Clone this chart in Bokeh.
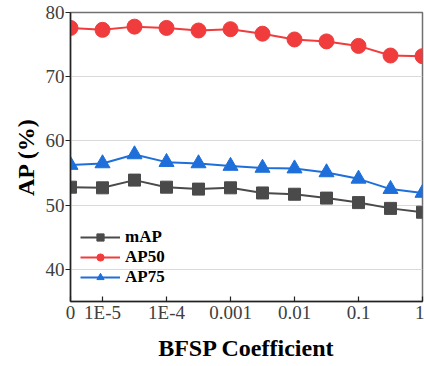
from bokeh.plotting import figure
from bokeh.models import FixedTicker, Range1d, Legend, LegendItem
from bokeh.embed import file_html
from bokeh.resources import INLINE

# Data
x_index = list(range(12))
tick_positions = [0, 1, 3, 5, 7, 9, 11]
tick_labels = ["0", "1E-5", "1E-4", "0.001", "0.01", "0.1", "1"]
mAP = [52.8, 52.7, 53.9, 52.8, 52.5, 52.7, 51.9, 51.7, 51.1, 50.4, 49.5, 48.9]
AP50 = [77.6, 77.3, 77.8, 77.6, 77.2, 77.4, 76.7, 75.8, 75.5, 74.8, 73.3, 73.2]
AP75 = [56.25, 56.5, 57.9, 56.7, 56.5, 56.1, 55.8, 55.7, 55.1, 54.1, 52.5, 51.9]
y_ticks = [40, 50, 60, 70, 80]

FONT = "Liberation Serif"
TICK_FONT = "Liberation Serif"
C_GRAY = "#4a4a4a"
C_RED = "#f03c3c"
C_BLUE = "#1e6fd9"

p = figure(width=424, height=366, output_backend="svg", toolbar_location=None,
           x_range=Range1d(0, 11), y_range=Range1d(35, 80),
           min_border_left=70, min_border_right=2, min_border_top=12, min_border_bottom=65)

p.outline_line_color = "#707070"
p.outline_line_width = 1.5

# grid
p.xgrid.grid_line_color = None
p.ygrid.grid_line_color = "#dadada"
p.ygrid.grid_line_width = 1
p.yaxis.ticker = FixedTicker(ticks=y_ticks)
p.xaxis.ticker = FixedTicker(ticks=tick_positions)
p.xaxis.major_label_overrides = {pos: lab for pos, lab in zip(tick_positions, tick_labels)}

p.axis.axis_line_color = "#222222"
p.axis.axis_line_width = 1.5
p.axis.major_tick_line_color = "#222222"
p.axis.major_tick_line_width = 1.2
p.axis.minor_tick_line_color = None
p.axis.major_label_text_font = TICK_FONT
p.axis.major_label_text_font_size = "19px"
p.axis.major_label_text_color = "#404040"
p.axis.axis_label_text_font = FONT
p.axis.axis_label_text_font_size = "24px"
p.axis.axis_label_text_font_style = "bold"
p.axis.axis_label_text_color = "#000000"

p.xaxis.major_tick_in = 5
p.xaxis.major_tick_out = 0
p.xaxis.major_label_standoff = 0
p.xaxis.axis_label = "BFSP Coefficient"
p.xaxis.axis_label_standoff = 9

p.yaxis.major_tick_in = 0
p.yaxis.major_tick_out = 5
p.yaxis.major_label_standoff = 1
p.yaxis.axis_label = "AP (%)"
p.yaxis.axis_label_standoff = 4

l1 = p.line(x_index, mAP, line_color=C_GRAY, line_width=2)
m1 = p.scatter(x_index, mAP, marker="square", size=12, fill_color=C_GRAY, line_color=C_GRAY)
l2 = p.line(x_index, AP50, line_color=C_RED, line_width=2)
m2 = p.scatter(x_index, AP50, marker="circle", size=15, fill_color=C_RED, line_color=C_RED)
l3 = p.line(x_index, AP75, line_color=C_BLUE, line_width=2)
m3 = p.scatter(x_index, AP75, marker="triangle", size=15, fill_color=C_BLUE, line_color=C_BLUE)

legend = Legend(items=[
    LegendItem(label="mAP", renderers=[l1, m1]),
    LegendItem(label="AP50", renderers=[l2, m2]),
    LegendItem(label="AP75", renderers=[l3, m3]),
], location=(10, 14))
legend.border_line_color = None
legend.background_fill_alpha = 0
legend.padding = 0
legend.margin = 0
legend.spacing = 0
legend.glyph_width = 40
legend.glyph_height = 18
legend.label_height = 18
legend.label_standoff = 5
legend.label_text_font = FONT
legend.label_text_font_size = "17px"
legend.label_text_font_style = "bold"
legend.label_text_color = "#000000"
p.add_layout(legend, "center")

open("out.html", "w").write(file_html(p, INLINE))
